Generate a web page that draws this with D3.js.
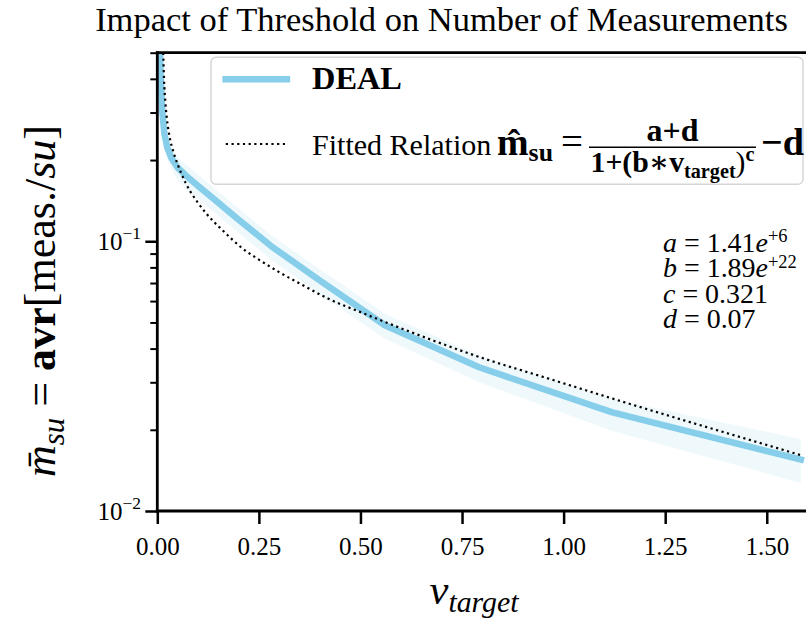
<!DOCTYPE html>
<html>
<head>
<meta charset="utf-8">
<script src="https://cdn.jsdelivr.net/npm/d3@7"></script>
<style>
  html, body { margin: 0; padding: 0; background: #fff; }
  svg { display: block; }
  text { font-family: "Liberation Serif", "DejaVu Serif", serif; fill: #000; }
</style>
</head>
<body>
<svg id="chart" width="806" height="619"></svg>
<script>
// ---------------- data ----------------
const titleText = "Impact of Threshold on Number of Measurements";
const xTicks = [0, 0.25, 0.5, 0.75, 1.0, 1.25, 1.5];
const xTickLabels = ["0.00", "0.25", "0.50", "0.75", "1.00", "1.25", "1.50"];
const yMajorTicks = [0.01, 0.1];
const yMajorExponents = ["\u22122", "\u22121"];
const yMinorTicks = [0.02, 0.03, 0.04, 0.05, 0.06, 0.07, 0.08, 0.09, 0.2, 0.3, 0.4, 0.5];

// DEAL: mean measurements per step and its shaded spread
const dealV    = [0.0044, 0.0062, 0.00875, 0.0124, 0.0175, 0.0247, 0.035, 0.0495, 0.07, 0.099, 0.14, 0.198, 0.28, 0.396, 0.56, 0.792, 1.12, 1.584];
const dealMean = [0.85, 0.53, 0.40, 0.30, 0.25, 0.222, 0.203, 0.188, 0.1755, 0.161, 0.143, 0.121, 0.096, 0.0722, 0.0488, 0.0341, 0.0232, 0.0155];
const dealLow  = [0.79, 0.485, 0.365, 0.275, 0.228, 0.202, 0.184, 0.169, 0.157, 0.144, 0.128, 0.108, 0.0855, 0.0642, 0.0435, 0.030, 0.0198, 0.0127];
const dealHigh = [0.91, 0.575, 0.435, 0.325, 0.272, 0.242, 0.222, 0.206, 0.193, 0.177, 0.157, 0.133, 0.1055, 0.0795, 0.0538, 0.0377, 0.026, 0.0185];

// Fitted relation (dotted)
const fitV = [0.0135, 0.0145, 0.0165, 0.02, 0.023, 0.03, 0.039, 0.05, 0.06, 0.08, 0.1, 0.12, 0.16, 0.21, 0.25, 0.3, 0.36, 0.42, 0.5, 0.556, 0.68, 0.80, 0.95, 1.11, 1.3, 1.45, 1.584];
const fitM = [0.55, 0.50, 0.40, 0.325, 0.29, 0.245, 0.216, 0.193, 0.177, 0.154, 0.139, 0.127, 0.110, 0.094, 0.0855, 0.0768, 0.0685, 0.0613, 0.0546, 0.0505, 0.0428, 0.0369, 0.0314, 0.0264, 0.0216, 0.0185, 0.0161];

// fitted parameters text
const paramNames = ["a", "b", "c", "d"];
const paramMantissa = ["1.41", "1.89", "0.321", "0.07"];
const paramExponent = ["+6", "+22", "", ""];

const legendLabels = ["DEAL", "Fitted Relation "];

// ---------------- layout ----------------
const svg = d3.select("#chart");
const plot = { left: 157.3, right: 807.4, top: 52.7, bottom: 511 };
const x = d3.scaleLinear().domain([0, 1.6]).range([plot.left, plot.right]);
const y = d3.scaleLog().domain([0.01, 0.5]).range([plot.bottom, plot.top]);

const skyblue = "#87CEEB";

svg.append("defs").append("clipPath").attr("id", "clip")
  .append("rect").attr("x", plot.left).attr("y", plot.top)
  .attr("width", plot.right - plot.left).attr("height", plot.bottom - plot.top);

const gPlot = svg.append("g").attr("clip-path", "url(#clip)");

const dealData = dealV.map((v, i) => ({ v, m: dealMean[i], lo: dealLow[i], hi: dealHigh[i] }));
const fitData = fitV.map((v, i) => ({ v, m: fitM[i] }));

// band
gPlot.append("path")
  .datum(dealData)
  .attr("fill", skyblue)
  .attr("fill-opacity", 0.13)
  .attr("d", d3.area().x(d => x(d.v)).y0(d => y(d.lo)).y1(d => y(d.hi)));

// mean line
gPlot.append("path")
  .datum(dealData)
  .attr("fill", "none")
  .attr("stroke", skyblue)
  .attr("stroke-width", 6.5)
  .attr("stroke-linejoin", "round")
  .attr("stroke-linecap", "square")
  .attr("d", d3.line().x(d => x(d.v)).y(d => y(d.m)));

// fitted dotted
gPlot.append("path")
  .datum(fitData)
  .attr("fill", "none")
  .attr("stroke", "#000")
  .attr("stroke-width", 2.2)
  .attr("stroke-dasharray", "2.2,3.5")
  .attr("d", d3.line().curve(d3.curveMonotoneX).x(d => x(d.v)).y(d => y(d.m)));

// ---------------- axes ----------------
const xAxis = d3.axisBottom(x).tickValues(xTicks).tickFormat((d, i) => xTickLabels[i])
  .tickSize(13).tickPadding(8);
const gx = svg.append("g").attr("transform", `translate(0,${plot.bottom})`).call(xAxis);
gx.select(".domain").remove();
gx.selectAll(".tick line").attr("stroke", "#000").attr("stroke-width", 2.5);
gx.selectAll(".tick text").attr("font-size", 25).attr("font-family", "Liberation Serif").attr("dy", "0.9em").attr("fill", "#000");

const yAxisMajor = d3.axisLeft(y).tickValues(yMajorTicks).tickFormat("").tickSize(12);
const gy = svg.append("g").attr("transform", `translate(${plot.left},0)`).call(yAxisMajor);
gy.select(".domain").remove();
gy.selectAll(".tick line").attr("stroke", "#000").attr("stroke-width", 2.5);

const yAxisMinor = d3.axisLeft(y).tickValues(yMinorTicks).tickFormat("").tickSize(7);
const gym = svg.append("g").attr("transform", `translate(${plot.left},0)`).call(yAxisMinor);
gym.select(".domain").remove();
gym.selectAll(".tick line").attr("stroke", "#000").attr("stroke-width", 2);

// y major labels with superscripts
yMajorTicks.forEach((t, i) => {
  const tx = svg.append("text")
    .attr("x", 141).attr("y", y(t)).attr("dy", "0.36em")
    .attr("text-anchor", "end").attr("font-size", 25);
  tx.append("tspan").text("10");
  tx.append("tspan").attr("font-size", "0.7em").attr("dy", "-0.62em").text(yMajorExponents[i]);
});

// spines
svg.append("line").attr("x1", plot.left).attr("x2", plot.left).attr("y1", plot.top - 1.4).attr("y2", plot.bottom + 1.4)
  .attr("stroke", "#000").attr("stroke-width", 2.8);
svg.append("line").attr("x1", plot.left - 1.4).attr("x2", plot.right).attr("y1", plot.bottom).attr("y2", plot.bottom)
  .attr("stroke", "#000").attr("stroke-width", 2.8);
svg.append("line").attr("x1", plot.left - 1.4).attr("x2", plot.right).attr("y1", plot.top).attr("y2", plot.top)
  .attr("stroke", "#000").attr("stroke-width", 2.8);

function fitWidth(sel, target) {
  const w = sel.node().getBBox().width;
  const fs = parseFloat(sel.attr("font-size"));
  const nfs = fs * target / w;
  sel.attr("font-size", nfs);
  return nfs;
}

// ---------------- title ----------------
const title = svg.append("text").attr("x", 441.5).attr("y", 31).attr("text-anchor", "middle")
  .attr("font-size", 30).text(titleText);
fitWidth(title, 693);

// ---------------- axis labels ----------------
const xl = svg.append("text").attr("x", 474).attr("y", 604).attr("text-anchor", "middle").attr("font-size", 32);
xl.append("tspan").attr("font-style", "italic").text("v");
xl.append("tspan").attr("font-style", "italic").attr("font-size", "0.7em").attr("dy", "0.28em").text("target");
fitWidth(xl, 90);

const yl = svg.append("text").attr("transform", "translate(55,301) rotate(-90)")
  .attr("text-anchor", "middle").attr("font-size", 32);
yl.append("tspan").attr("font-style", "italic").text("m\u0304");
yl.append("tspan").attr("font-style", "italic").attr("font-size", "0.7em").attr("dy", "0.3em").text("su");
yl.append("tspan").attr("dy", "-0.21em").text(" = ");
yl.append("tspan").attr("font-weight", "bold").text("avr");
yl.append("tspan").text("[meas./");
yl.append("tspan").attr("font-style", "italic").text("su");
yl.append("tspan").text("]");
fitWidth(yl, 352);

// ---------------- legend ----------------
const lg = svg.append("g");
lg.append("rect").attr("x", 211).attr("y", 57.3).attr("width", 592).attr("height", 127)
  .attr("rx", 5).attr("fill", "#fff").attr("fill-opacity", 0.8)
  .attr("stroke", "#d6d6d6").attr("stroke-width", 1.5);
lg.append("line").attr("x1", 222.4).attr("x2", 290.2).attr("y1", 79.3).attr("y2", 79.3)
  .attr("stroke", skyblue).attr("stroke-width", 6.5);
const t1 = lg.append("text").attr("x", 312).attr("y", 89.3).attr("font-size", 27).attr("font-weight", "bold").text(legendLabels[0]);
fitWidth(t1, 90);
lg.append("line").attr("x1", 225.8).attr("x2", 288).attr("y1", 144).attr("y2", 144)
  .attr("stroke", "#000").attr("stroke-width", 2.2).attr("stroke-dasharray", "2.2,3.5");
const t2 = lg.append("text").attr("x", 312).attr("y", 155).attr("font-size", 27).text(legendLabels[1]);
fitWidth(t2, 180);
// formula
const fm = lg.append("text").attr("x", 497).attr("y", 155).attr("font-size", 27).attr("font-weight", "bold");
fm.append("tspan").text("m\u0302");
fm.append("tspan").attr("font-size", "0.68em").attr("dy", "0.25em").text("su");
fitWidth(fm, 56);
const eq = lg.append("text").attr("x", 572).attr("y", 155).attr("text-anchor", "middle").attr("font-size", 27).text("=");
fitWidth(eq, 22);
lg.append("line").attr("x1", 589).attr("x2", 756).attr("y1", 147.3).attr("y2", 147.3)
  .attr("stroke", "#000").attr("stroke-width", 1.6);
const num = lg.append("text").attr("x", 672.5).attr("y", 141).attr("text-anchor", "middle")
  .attr("font-size", 27).attr("font-weight", "bold").text("a+d");
fitWidth(num, 52);
const den = lg.append("text").attr("x", 672.5).attr("y", 171.5).attr("text-anchor", "middle")
  .attr("font-size", 27).attr("font-weight", "bold");
den.append("tspan").text("1+(b\u2217v");
den.append("tspan").attr("font-size", "0.68em").attr("dy", "0.3em").text("target");
den.append("tspan").attr("dy", "-0.2em").attr("font-weight", "normal").text(")");
den.append("tspan").attr("font-size", "0.68em").attr("dy", "-0.55em").text("c");
fitWidth(den, 164);
const md = lg.append("text").attr("x", 761).attr("y", 155).attr("font-size", 27).attr("font-weight", "bold").text("\u2212d");
fitWidth(md, 43);

// ---------------- parameter annotation ----------------
const baselines = [251.5, 277, 302.5, 328];
const paramTexts = paramNames.map((p, i) => {
  const t = svg.append("text").attr("x", 663).attr("y", baselines[i]).attr("font-size", 26);
  t.append("tspan").attr("font-style", "italic").text(p);
  t.append("tspan").text(" = " + paramMantissa[i]);
  if (paramExponent[i]) {
    t.append("tspan").attr("font-style", "italic").text("e");
    t.append("tspan").attr("font-size", "0.66em").attr("dy", "-0.5em").text(paramExponent[i]);
  }
  return t;
});
const pfs = fitWidth(paramTexts[2], 105);
paramTexts.forEach(t => t.attr("font-size", pfs));
</script>
</body>
</html>
